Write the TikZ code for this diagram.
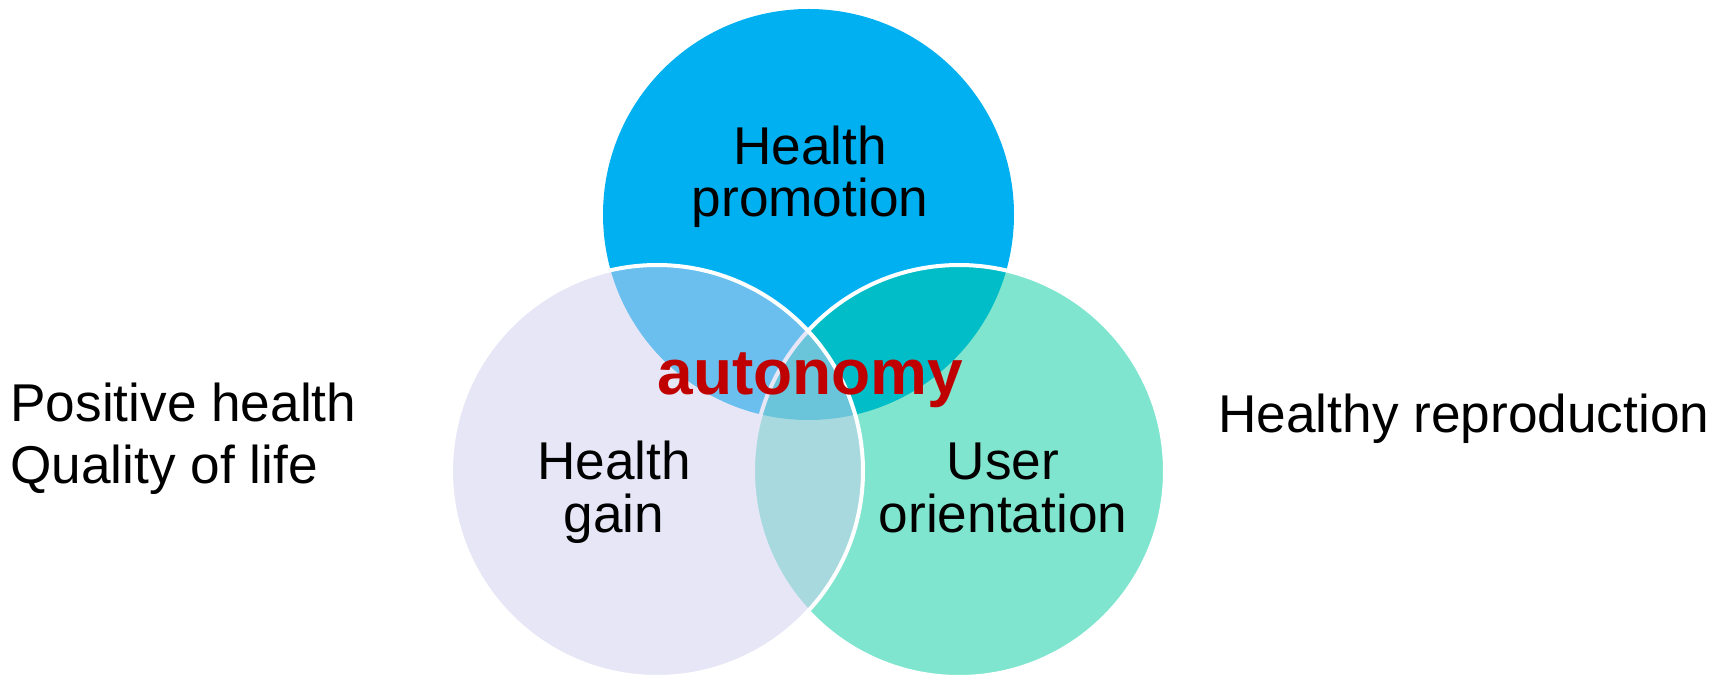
\documentclass[tikz,border=0pt]{standalone}
\usepackage{fontspec}
\setmainfont{Liberation Sans}
\definecolor{promoblue}{HTML}{00B0F0}
\definecolor{gainlav}{RGB}{208,206,239}
\definecolor{usergreen}{RGB}{1,203,159}
\definecolor{autored}{HTML}{C00000}
\begin{document}
\begin{tikzpicture}[x=0.5pt,y=-0.5pt,
  ring/.style={draw=white,line width=2pt},
  label/.style={inner sep=0pt,font=\fontsize{26.6}{26}\selectfont,align=center,anchor=base},
  sidetext/.style={inner sep=0pt,font=\fontsize{26.6}{31}\selectfont,align=left,anchor=base west}]
  \useasboundingbox (0,0) rectangle (1725,678);
  % three overlapping circles, painted top, right, left
  \fill[promoblue] (808.5,214.5) circle[radius=205.5];
  \path[ring,fill=usergreen,fill opacity=0.5] (959,471) circle[radius=206];
  \path[ring,fill=gainlav,fill opacity=0.51] (657,471) circle[radius=206];
  % circle labels (anchored on the baseline of their last line)
  \node[label] (promo) at (810,217) {Health\\promotion};
  \node[label] (gain) at (614,532) {Health\\gain};
  \node[label] (user) at (1003,532) {User\\orientation};
  \node[inner sep=0pt,anchor=base,text=autored,font=\fontsize{32}{36}\selectfont\bfseries] (auto) at (810.5,395) {autonomy};
  % side texts
  \node[sidetext] (pos) at (10,484) {Positive health\\Quality of life};
  \node[sidetext] (repro) at (1218,433) {Healthy reproduction};
\end{tikzpicture}
\end{document}
